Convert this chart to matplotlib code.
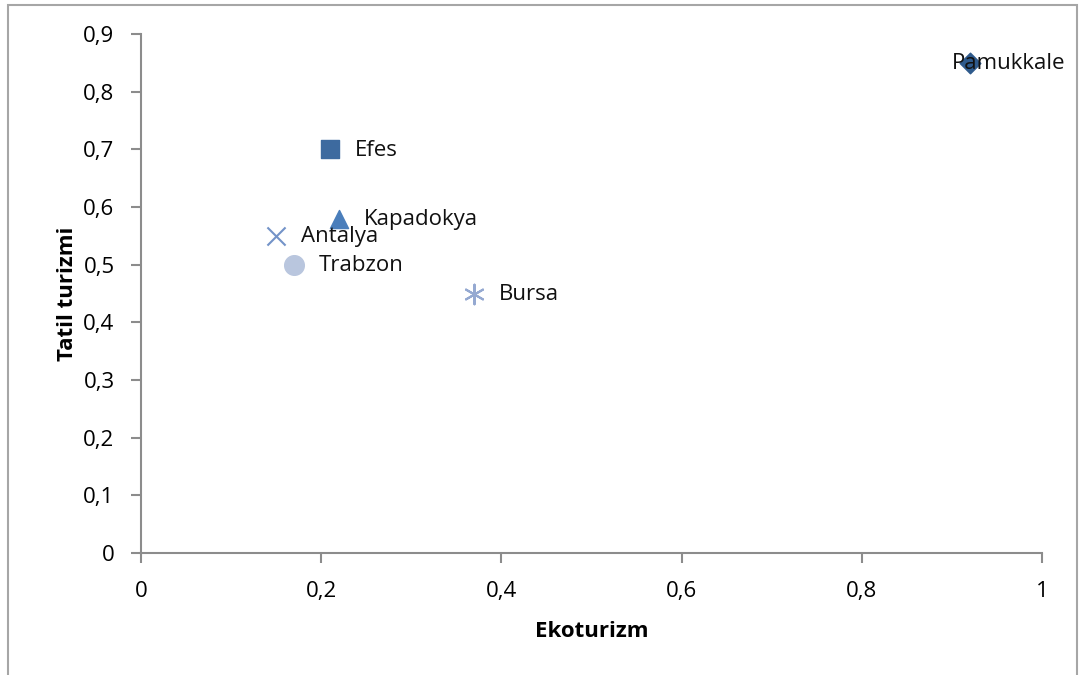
import matplotlib.pyplot as plt
from matplotlib.patches import Rectangle
from matplotlib.ticker import FuncFormatter

plt.rcParams['font.family'] = ['Open Sans', 'DejaVu Sans']

places = ['Pamukkale', 'Efes', 'Kapadokya', 'Antalya', 'Trabzon', 'Bursa']
ekoturizm = [0.92, 0.21, 0.22, 0.15, 0.17, 0.37]
tatil = [0.85, 0.70, 0.58, 0.55, 0.50, 0.45]
markers = ['D', 's', '^', 'x', 'o', (6, 2, 0)]
colors = ['#2E5A8C', '#3D6A9F', '#4A7EBB', '#7393C8', '#B9C6DE', '#95A9D1']
sizes = [110, 170, 170, 170, 200, 200]

fig = plt.figure(figsize=(10.82, 6.75), dpi=100)
ax = fig.add_axes([0.1303, 0.1807, 0.8327, 0.7689])

for name, x, y, m, c, s in zip(places, ekoturizm, tatil, markers, colors, sizes):
    if m in ('x', (6, 2, 0)):
        ax.scatter(x, y, marker=m, s=s, color=c, linewidths=1.5, zorder=3)
    else:
        ax.scatter(x, y, marker=m, s=s, color=c, zorder=3)
    # Pamukkale label pushed left so it stays inside the chart
    dx = 25 if name != 'Pamukkale' else -18
    ax.annotate(name, (x, y), xytext=(dx, -1), textcoords='offset pixels',
                va='center', ha='left', fontsize=16, color='#111111', zorder=4)

ax.set_xlim(0, 1)
ax.set_ylim(0, 0.9)
ax.set_xticks([0, 0.2, 0.4, 0.6, 0.8, 1])
ax.set_yticks([0, 0.1, 0.2, 0.3, 0.4, 0.5, 0.6, 0.7, 0.8, 0.9])
fmt = FuncFormatter(lambda v, p: ('%g' % round(v, 2)).replace('.', ','))
ax.xaxis.set_major_formatter(fmt)
ax.yaxis.set_major_formatter(fmt)

for side in ['top', 'right']:
    ax.spines[side].set_visible(False)
for side in ['left', 'bottom']:
    ax.spines[side].set_color('#8C8C8C')
    ax.spines[side].set_linewidth(1.5)
ax.tick_params(colors='#8C8C8C', width=1.5, length=7, labelsize=16, labelcolor='black', pad=9)
ax.tick_params(axis='x', pad=13)
ax.tick_params(axis='y', pad=12)

ax.set_xlabel('Ekoturizm', fontsize=16, fontweight='bold', labelpad=14)
ax.set_ylabel('Tatil turizmi', fontsize=16, fontweight='bold', labelpad=4)

fig.patches.append(Rectangle((8 / 1082, -0.05), (1077 - 8) / 1082, 1 - 5 / 675 + 0.05,
                             transform=fig.transFigure, fill=False,
                             edgecolor='#A6A6A6', linewidth=1.5))

fig.savefig('out.png', dpi=100)
